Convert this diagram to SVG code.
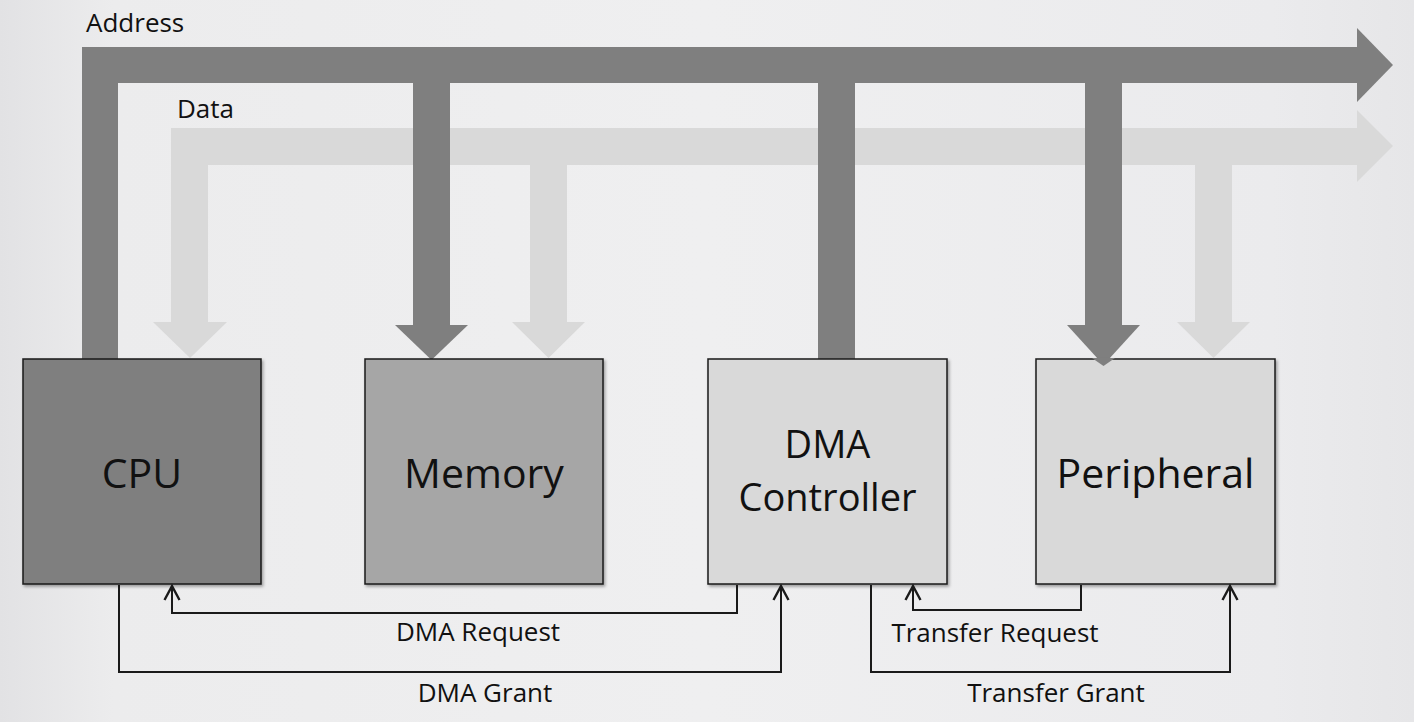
<svg xmlns="http://www.w3.org/2000/svg" width="1414" height="722" viewBox="0 0 1414 722">
<defs>
<style>
.addr{fill:#7f7f7f}
.data{fill:#d9d9d9}
.box{stroke:#1a1a1a;stroke-width:1.5;filter:url(#sh)}
.big{font-family:"Open Sans","Liberation Sans",sans-serif;font-size:41px;fill:#111;text-anchor:middle}
.two{font-size:38px}
.lbl{font-family:"Open Sans","Liberation Sans",sans-serif;font-size:26px;fill:#111}
.mid{text-anchor:middle}
.wire{fill:none;stroke:#1a1a1a;stroke-width:2}
</style>
<filter id="sh" x="-5%" y="-5%" width="115%" height="115%">
<feDropShadow dx="1.5" dy="2" stdDeviation="1.5" flood-color="#000" flood-opacity="0.35"/>
</filter>
<marker id="open" viewBox="0 0 20 20" refX="17" refY="10" markerWidth="20" markerHeight="20" markerUnits="userSpaceOnUse" orient="auto">
<polyline points="3,2.5 17,10 3,17.5" fill="none" stroke="#1a1a1a" stroke-width="2.4"/>
</marker>
<linearGradient id="bg" x1="0" y1="0" x2="1" y2="0">
<stop offset="0" stop-color="#e2e2e4"/>
<stop offset="0.08" stop-color="#ececed"/>
<stop offset="0.5" stop-color="#efeff0"/>
<stop offset="0.9" stop-color="#ebebed"/>
<stop offset="1" stop-color="#e6e6e8"/>
</linearGradient>
</defs>
<rect width="1414" height="722" fill="url(#bg)"/>

<g id="data-bus">
<rect class="data" x="171" y="128" width="1188" height="37"/>
<polygon class="data" points="1357,110 1393,146 1357,182"/>
<rect class="data" x="171" y="128" width="37" height="195"/>
<polygon class="data" points="153,322 227,322 190,358"/>
<rect class="data" x="530" y="164" width="37" height="159"/>
<polygon class="data" points="512,322 585,322 548.5,358"/>
<rect class="data" x="1195" y="164" width="37" height="159"/>
<polygon class="data" points="1177,322 1250,322 1213.5,358"/>
<text class="lbl" x="177" y="118">Data</text>
</g>

<g id="address-bus">
<rect class="addr" x="82" y="47" width="1277" height="36"/>
<polygon class="addr" points="1357,28 1393,65 1357,102"/>
<rect class="addr" x="82" y="47" width="36" height="312"/>
<rect class="addr" x="413" y="82" width="37" height="244"/>
<polygon class="addr" points="395,325 468,325 431.5,360"/>
<rect class="addr" x="818" y="82" width="37" height="277"/>
<rect class="addr" x="1085" y="82" width="37" height="244"/>
<polygon class="addr" points="1067,325 1140,325 1103.5,365"/>
<text class="lbl" x="86" y="32">Address</text>
</g>

<g id="cpu">
<rect class="box" x="23" y="359" width="238" height="225" fill="#7f7f7f"/>
<text class="big" x="142" y="488">CPU</text>
</g>
<g id="memory">
<rect class="box" x="365" y="359" width="238" height="225" fill="#a6a6a6"/>
<text class="big" x="484" y="488">Memory</text>
</g>
<g id="dma-controller">
<rect class="box" x="708" y="359" width="239" height="225" fill="#d9d9d9"/>
<text class="big two" x="827.5" y="458">DMA</text>
<text class="big two" x="827.5" y="511">Controller</text>
</g>
<g id="peripheral">
<rect class="box" x="1036" y="359" width="239" height="225" fill="#d9d9d9"/>
<text class="big" x="1155.5" y="488">Peripheral</text>
</g>
<g id="peripheral-addr-tip">
<polygon class="addr" points="1092,358 1115,358 1103.5,366"/>
</g>

<g id="connectors">
<polyline class="wire" points="737,585 737,613 172,613 172,586" marker-end="url(#open)"/>
<polyline class="wire" points="119,585 119,672 781,672 781,586" marker-end="url(#open)"/>
<polyline class="wire" points="1081,585 1081,610 913,610 913,586" marker-end="url(#open)"/>
<polyline class="wire" points="871,585 871,672 1230,672 1230,586" marker-end="url(#open)"/>
<text class="lbl mid" x="478" y="641">DMA Request</text>
<text class="lbl mid" x="485" y="702">DMA Grant</text>
<text class="lbl mid" x="995" y="642">Transfer Request</text>
<text class="lbl mid" x="1056" y="702">Transfer Grant</text>
</g>
</svg>
